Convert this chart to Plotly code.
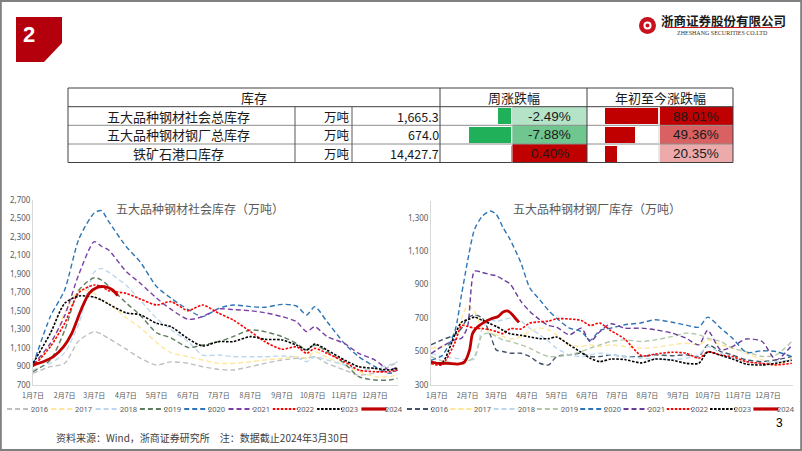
import plotly.graph_objects as go

W, H = 802, 451


def px(x):
    return x / W


def py(y):
    return 1 - y / H


# ---------------- data ----------------
YEARS = ["2016", "2017", "2018", "2019", "2020", "2021", "2022", "2023", "2024"]
MONTH_TICKS = ["01-07", "02-07", "03-07", "04-07", "05-07", "06-07",
               "07-07", "08-07", "09-07", "10-07", "11-07", "12-07"]
MONTH_LABELS = ["1月7日", "2月7日", "3月7日", "4月7日", "5月7日", "6月7日",
                "7月7日", "8月7日", "9月7日", "10月7日", "11月7日", "12月7日"]

# 五大品种钢材社会库存（万吨）
SOC_DATES = ["01-07", "01-24", "02-07", "02-21", "03-07", "03-14", "03-21", "04-07", "04-21",
             "05-07", "05-21", "06-07", "06-21", "07-07", "07-21", "08-07", "08-21", "09-07",
             "09-21", "10-01", "10-09", "10-21", "11-07", "11-21", "12-07", "12-21", "12-29"]
SOC_2016 = [826, 898, 934, 1180, 1277, 1250, 1205, 1090, 990, 916, 950, 934, 898, 869, 862,
            898, 934, 970, 988, 990, 1006, 934, 862, 808, 830, 898, 952]
SOC_2017 = [898, 1114, 1475, 1727, 1690, 1620, 1580, 1430, 1320, 1160, 1050, 1006, 970, 934,
            934, 952, 970, 988, 1006, 990, 1060, 1000, 916, 844, 790, 790, 808]
SOC_2018 = [862, 934, 1050, 1367, 1920, 1961, 1920, 1780, 1620, 1420, 1300, 1170, 1024, 1024,
            1006, 1006, 1006, 1013, 1000, 952, 1006, 970, 916, 862, 880, 916, 952]
SOC_2019 = [844, 970, 1290, 1727, 1860, 1835, 1770, 1590, 1455, 1265, 1210, 1105, 1132, 1169,
            1223, 1295, 1277, 1223, 1150, 1080, 1132, 1060, 934, 790, 754, 754, 772]
SOC_2020 = [916, 1440, 1727, 2280, 2560, 2585, 2470, 2200, 2030, 1765, 1640, 1515, 1439, 1529,
            1565, 1547, 1540, 1572, 1554, 1457, 1547, 1385, 1150, 1006, 898, 826, 862]
SOC_2021 = [916, 1150, 1450, 1900, 2250, 2200, 2160, 1930, 1800, 1640, 1520, 1410, 1439, 1522,
            1515, 1503, 1482, 1439, 1385, 1277, 1331, 1223, 1150, 1042, 970, 862, 898]
SOC_2022 = [898, 1114, 1367, 1700, 1781, 1763, 1720, 1691, 1630, 1565, 1601, 1504, 1565, 1475,
            1403, 1277, 1169, 1086, 1114, 1042, 1096, 1042, 952, 862, 844, 844, 862]
SOC_2023 = [934, 1259, 1583, 1662, 1650, 1619, 1575, 1480, 1460, 1367, 1331, 1200, 1122, 1169,
            1169, 1223, 1194, 1187, 1132, 1078, 1143, 1078, 970, 898, 880, 862, 880]
SOC_2024_DATES = ["01-07", "01-17", "01-27", "02-06", "02-14", "02-23", "03-02", "03-10",
                  "03-17", "03-25", "03-30"]
SOC_2024 = [916, 952, 1006, 1114, 1259, 1511, 1691, 1756, 1763, 1727, 1665]

# 五大品种钢材钢厂库存（万吨）
MILL_DATES = ["01-01", "01-12", "01-25", "02-01", "02-07", "02-14", "02-22", "03-01", "03-07",
              "03-14", "03-21", "04-01", "04-10", "04-20", "04-29", "05-07", "05-20", "06-01",
              "06-10", "06-20", "07-01", "07-15", "08-01", "08-15", "09-01", "09-15", "09-28",
              "10-07", "10-20", "11-01", "11-15", "12-01", "12-15", "12-31"]
MILL_2016 = [540, 570, 600, 640, 700, 720, 700, 600, 510, 500, 490, 490, 470, 430, 420, 470, 480,
             490, 470, 470, 480, 470, 470, 480, 475, 480, 470, 540, 500, 480, 450, 440, 450, 470]
MILL_2017 = [520, 530, 560, 700, 775, 740, 640, 620, 600, 590, 575, 590, 620, 640, 630, 600, 540,
             530, 540, 530, 540, 530, 520, 525, 540, 550, 540, 570, 540, 520, 490, 450, 420, 460]
MILL_2018 = [490, 470, 460, 455, 450, 455, 640, 690, 680, 690, 700, 680, 640, 600, 560, 520, 480,
             470, 480, 490, 480, 470, 460, 455, 450, 460, 480, 530, 490, 460, 440, 430, 440, 450]
MILL_2019 = [470, 445, 430, 420, 440, 470, 600, 610, 590, 570, 560, 540, 520, 490, 470, 470, 480,
             500, 520, 540, 560, 570, 560, 570, 590, 610, 600, 580, 560, 520, 500, 470, 480, 560]
MILL_2020 = [448, 475, 620, 844, 1040, 1230, 1310, 1340, 1320, 1240, 1170, 1030, 880, 810, 745,
             700, 640, 620, 567, 627, 640, 660, 672, 690, 675, 658, 646, 706, 640, 580, 495, 505,
             500, 470]
MILL_2021 = [488, 530, 570, 580, 650, 980, 973, 960, 953, 930, 904, 800, 740, 690, 655, 646, 600,
             640, 560, 620, 666, 640, 640, 630, 610, 580, 540, 627, 510, 530, 575, 560, 450, 537]
MILL_2022 = [428, 420, 550, 656, 650, 640, 637, 630, 620, 607, 637, 635, 670, 678, 682, 696, 695,
             686, 656, 670, 625, 575, 475, 485, 496, 490, 460, 498, 478, 470, 440, 429, 420, 430]
MILL_2023 = [439, 430, 600, 676, 690, 706, 686, 666, 650, 627, 607, 597, 587, 577, 577, 587, 540,
             495, 460, 440, 455, 452, 432, 455, 448, 430, 430, 498, 478, 455, 425, 420, 430, 448]
MILL_2024_DATES = ["01-01", "01-08", "01-18", "01-28", "02-04", "02-09", "02-12", "02-17",
                   "02-24", "03-02", "03-09", "03-14", "03-19", "03-24", "03-30"]
MILL_2024 = [439, 429, 429, 425, 439, 508, 607, 646, 676, 696, 710, 736, 742, 716, 674]

# 库存表
TABLE_ITEMS = ["五大品种钢材社会总库存", "五大品种钢材钢厂总库存", "铁矿石港口库存"]
TABLE_UNITS = ["万吨", "万吨", "万吨"]
TABLE_VALUES = [1665.3, 674.0, 14427.7]
WEEK_CHG = [-2.49, -7.88, 0.40]
YTD_CHG = [88.01, 49.36, 20.35]

# ---------------- styles ----------------
SOC_COLORS = ["#bfbfbf", "#ffe699", "#bdd7ee", "#5e7d5e", "#2e75b6", "#7b3fa6",
              "#ff0000", "#000000", "#c00000"]
MILL_COLORS = ["#44546a", "#ffe699", "#bdd7ee", "#b4c7a8", "#2e75b6", "#6a3d9a",
               "#ff0000", "#000000", "#c00000"]
DASHES = ["5px,3px"] * 6 + ["2.5px,1.5px", "2.5px,1.5px", "solid"]
WIDTHS = [1.4] * 6 + [1.6, 1.6, 2.8]

CJK = "Noto Sans CJK SC"
GRAY = "#595959"
PAD = 4  # annotation text padding (borderpad + text pad)

soc_series = [SOC_2016, SOC_2017, SOC_2018, SOC_2019, SOC_2020, SOC_2021, SOC_2022, SOC_2023]
mill_series = [MILL_2016, MILL_2017, MILL_2018, MILL_2019, MILL_2020, MILL_2021, MILL_2022,
               MILL_2023]


def dates(md):
    return ["2024-" + d for d in md]


fig = go.Figure()

for i, yr in enumerate(YEARS):
    if yr == "2024":
        xs, ys = dates(SOC_2024_DATES), SOC_2024
    else:
        xs, ys = dates(SOC_DATES), soc_series[i]
    fig.add_trace(go.Scatter(
        x=xs, y=ys, name=yr, mode="lines", xaxis="x", yaxis="y", showlegend=False,
        line=dict(color=SOC_COLORS[i], dash=DASHES[i], width=WIDTHS[i],
                  shape="spline", smoothing=0.7),
        hoverinfo="skip"))

for i, yr in enumerate(YEARS):
    if yr == "2024":
        xs, ys = dates(MILL_2024_DATES), MILL_2024
    else:
        xs, ys = dates(MILL_DATES), mill_series[i]
    fig.add_trace(go.Scatter(
        x=xs, y=ys, name=yr, mode="lines", xaxis="x2", yaxis="y2", showlegend=False,
        line=dict(color=MILL_COLORS[i], dash=DASHES[i], width=WIDTHS[i],
                  shape="spline", smoothing=0.7),
        hoverinfo="skip"))

# data bars inside the table
ROWS = list(range(len(TABLE_ITEMS)))
fig.add_trace(go.Bar(
    x=WEEK_CHG, y=ROWS, orientation="h", xaxis="x3", yaxis="y3", width=0.86,
    marker=dict(color=["#21b05a" if v < 0 else "#c00000" for v in WEEK_CHG], line_width=0),
    showlegend=False, hoverinfo="skip"))
fig.add_trace(go.Bar(
    x=YTD_CHG, y=ROWS, orientation="h", xaxis="x4", yaxis="y4", width=0.86,
    marker=dict(color=["#c00000" if v > 0 else "#21b05a" for v in YTD_CHG], line_width=0),
    showlegend=False, hoverinfo="skip"))

shapes = []
annotations = []


def txt(x, y, s, size, color=GRAY, anchor="center", family=CJK, bold=False):
    if bold:
        s = "<b>" + s + "</b>"
    if anchor == "left":
        x -= PAD
    elif anchor == "right":
        x += PAD
    annotations.append(dict(x=px(x), y=py(y), xref="paper", yref="paper", text=s,
                            showarrow=False, xanchor=anchor, yanchor="middle",
                            font=dict(size=size, color=color, family=family)))


def hline(x0, x1, y, color="#7f7f7f", width=1):
    shapes.append(dict(type="line", xref="paper", yref="paper", x0=px(x0), x1=px(x1),
                       y0=py(y), y1=py(y), line=dict(color=color, width=width)))


def vline(x, y0, y1, color="#7f7f7f", width=1):
    shapes.append(dict(type="line", xref="paper", yref="paper", x0=px(x), x1=px(x),
                       y0=py(y0), y1=py(y1), line=dict(color=color, width=width)))


def rect(x0, y0, x1, y1, fill, layer="below"):
    shapes.append(dict(type="rect", xref="paper", yref="paper", x0=px(x0), x1=px(x1),
                       y0=py(y1), y1=py(y0), fillcolor=fill, line=dict(width=0),
                       layer=layer))


# slide border
shapes.append(dict(type="rect", xref="paper", yref="paper", x0=0.001, x1=0.999, y0=0.002,
                   y1=0.998, line=dict(color="#808080", width=2), fillcolor="rgba(0,0,0,0)"))

# red section badge
shapes.append(dict(type="path", xref="paper", yref="paper",
                   path="M {} {} L {} {} L {} {} L {} {} L {} {} Z".format(
                       px(16), py(17), px(62), py(17), px(62), py(43), px(44), py(62),
                       px(16), py(62)),
                   fillcolor="#b3000c", line=dict(width=0)))
txt(29, 34, "2", 22, "#ffffff", family="Liberation Sans", bold=True)

# logo
shapes.append(dict(type="circle", xref="paper", yref="paper", x0=px(639), x1=px(656),
                   y0=py(34), y1=py(17), fillcolor="#c8101e", line=dict(width=0)))
shapes.append(dict(type="circle", xref="paper", yref="paper", x0=px(643.5), x1=px(651.5),
                   y0=py(29.5), y1=py(21.5), fillcolor="#ffffff", line=dict(width=0)))
shapes.append(dict(type="circle", xref="paper", yref="paper", x0=px(645.5), x1=px(649.5),
                   y0=py(27.5), y1=py(23.5), fillcolor="#c8101e", line=dict(width=0)))
txt(723.5, 21, "浙商证券股份有限公司", 12.5, "#1a1a1a", bold=True)
hline(665, 782, 27.5, color="#c8101e", width=1)
txt(722, 33.5, "ZHESHANG SECURITIES CO.LTD", 6, "#333333", family="Liberation Serif")

# ---------------- table ----------------
T_L, T_R = 68, 733
T_TOP, T_HB = 88, 106.7
ROW_Y = [106.7, 125.3, 144.0, 162.5]
C_UNIT, C_VAL, C_WEEK, C_WVAL, C_YTD, C_YVAL = 295, 352, 440, 512, 587, 659


def green_fill(v):
    t = min(abs(v) / 8.0, 1.0)
    c0, c1 = (214, 241, 225), (110, 198, 142)
    return "rgb({},{},{})".format(*[int(a + (b - a) * t) for a, b in zip(c0, c1)])


def red_fill(v):
    t = min(abs(v) / 88.0, 1.0)
    c0, c1 = (250, 222, 223), (192, 0, 0)
    return "rgb({},{},{})".format(*[int(a + (b - a) * t) for a, b in zip(c0, c1)])


for r in ROWS:
    y0, y1 = ROW_Y[r], ROW_Y[r + 1]
    wv = WEEK_CHG[r]
    rect(C_WVAL, y0, C_YTD, y1, green_fill(wv) if wv < 0 else "#c00000")
    rect(C_YVAL + 1, y0, T_R, y1, red_fill(YTD_CHG[r]))

hline(T_L, T_R, T_TOP, color="#404040")
hline(T_L, T_R, T_HB, color="#404040")
for yy in ROW_Y[1:-1]:
    hline(T_L, T_R, yy, color="#8c8c8c")
hline(T_L, T_R, ROW_Y[-1], color="#404040")
for xx in (T_L, C_WEEK, C_YTD, T_R):
    vline(xx, T_TOP, ROW_Y[-1], color="#404040")
for xx in (C_UNIT, C_VAL):
    vline(xx, T_HB, ROW_Y[-1], color="#595959")
for xx in (C_WVAL, C_YVAL):
    vline(xx, T_HB, ROW_Y[-1], color="#d0d0d0")

txt((T_L + C_WEEK) / 2, 97.5, "库存", 13, "#1a1a1a")
txt((C_WEEK + C_YTD) / 2, 97.5, "周涨跌幅", 13, "#1a1a1a")
txt((C_YTD + T_R) / 2, 97.5, "年初至今涨跌幅", 13, "#1a1a1a")
for r in ROWS:
    yc = (ROW_Y[r] + ROW_Y[r + 1]) / 2
    txt((T_L + C_UNIT) / 2 - 3, yc, TABLE_ITEMS[r], 13, "#1a1a1a")
    txt(C_VAL - 4, yc, TABLE_UNITS[r], 12.5, "#1a1a1a", anchor="right")
    txt(C_WEEK - 3, yc, "{:,.1f}".format(TABLE_VALUES[r]), 12.5, "#1a1a1a", anchor="right")
    txt((C_WVAL + C_YTD) / 2, yc, "{:.2f}%".format(WEEK_CHG[r]), 13.5, "#1a1a1a",
        family="Liberation Sans")
    txt((C_YVAL + T_R) / 2, yc, "{:.2f}%".format(YTD_CHG[r]), 13.5, "#1a1a1a",
        family="Liberation Sans")

# ---------------- chart titles, legends, footer ----------------
txt(200, 208, "五大品种钢材社会库存（万吨）", 12, GRAY)
txt(597, 209, "五大品种钢材钢厂库存（万吨）", 12, GRAY)


def legend_row(x_start, step, colors, y=409):
    for i, yr in enumerate(YEARS):
        x0 = x_start + step * i
        shapes.append(dict(type="line", xref="paper", yref="paper", x0=px(x0),
                           x1=px(x0 + 25), y0=py(y), y1=py(y),
                           line=dict(color=colors[i], width=WIDTHS[i] + 0.4,
                                     dash=DASHES[i])))
        txt(x0 + 26, y, yr, 7.5, GRAY, anchor="left", family="Noto Sans")


legend_row(7, 44.3, SOC_COLORS)
legend_row(407, 43.3, MILL_COLORS)

txt(58, 437, "资料来源：Wind，浙商证券研究所　注：数据截止2024年3月30日", 10, "#404040",
    anchor="left")
txt(779, 423, "3", 12, "#000000", family="Liberation Sans")

# ---------------- axes ----------------
tick_font = dict(size=8, color=GRAY, family="Noto Sans")
xtick_font = dict(size=7, color=GRAY, family=CJK)
tickvals = dates(MONTH_TICKS)
common = dict(showgrid=False, zeroline=False, automargin=False, fixedrange=True)

fig.update_layout(
    width=W, height=H, margin=dict(l=0, r=0, t=0, b=0, autoexpand=False),
    paper_bgcolor="white", plot_bgcolor="rgba(0,0,0,0)",
    showlegend=False, bargap=0,
    shapes=shapes, annotations=annotations,
    xaxis=dict(domain=[px(33), px(398)], type="date",
               range=["2024-01-07", "2024-12-29 12:00"], tickvals=tickvals,
               ticktext=MONTH_LABELS, tickfont=xtick_font, showline=True,
               linecolor="#d9d9d9", ticks="", ticklabelstandoff=4, anchor="y", **common),
    yaxis=dict(domain=[py(385), py(200)], range=[700, 2700], tick0=700, dtick=200,
               tickformat=",d", tickfont=tick_font, showline=True, linecolor="#d9d9d9",
               ticks="", anchor="x", **common),
    xaxis2=dict(domain=[px(431), px(793)], type="date",
                range=["2024-01-01", "2025-01-01 06:00"], tickvals=tickvals,
                ticktext=MONTH_LABELS, tickfont=xtick_font, showline=True,
                linecolor="#d9d9d9", ticks="", ticklabelstandoff=4, anchor="y2", **common),
    yaxis2=dict(domain=[py(385), py(201)], range=[300, 1400], tick0=300, dtick=200,
                tickformat=",d", tickfont=tick_font, showline=True, linecolor="#d9d9d9",
                ticks="", anchor="x2", **common),
    xaxis3=dict(domain=[px(441), px(511.7)], range=[-13.13, 0.13], visible=False,
                anchor="y3", **common),
    yaxis3=dict(domain=[py(162.5), py(106.7)], range=[2.5, -0.5], visible=False,
                anchor="x3", **common),
    xaxis4=dict(domain=[px(587.5), px(659)], range=[-27.8, 89.9], visible=False,
                anchor="y4", **common),
    yaxis4=dict(domain=[py(162.5), py(106.7)], range=[2.5, -0.5], visible=False,
                anchor="x4", **common),
)

fig.write_html("out.html")
